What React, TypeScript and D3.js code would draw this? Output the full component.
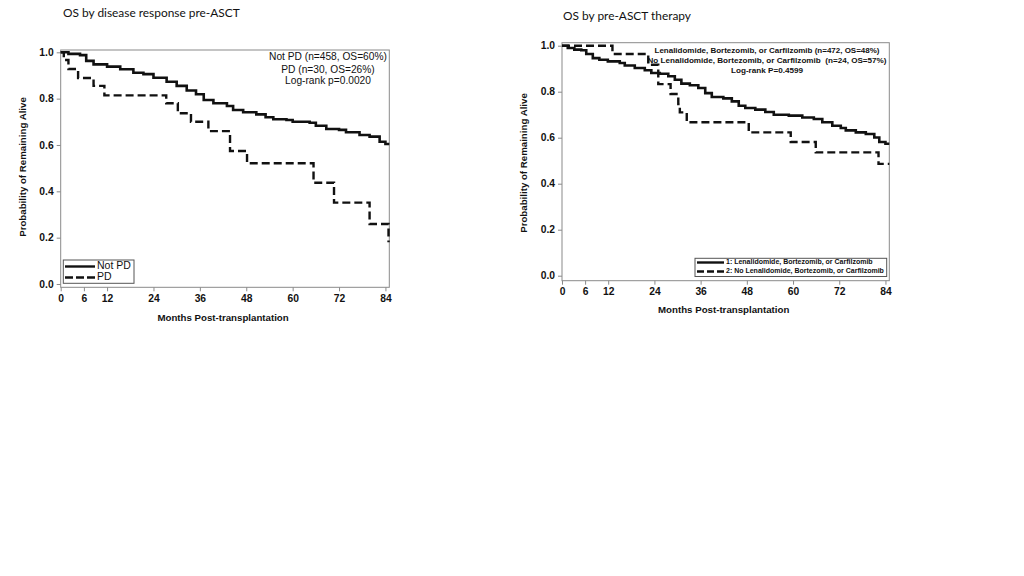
import * as d3 from "d3";
import { useEffect, useRef } from "react";

// Kaplan-Meier steps: [month, survival]
const notPdSteps: [number, number][] = [
    [0, 1.0], [2, 0.993], [5, 0.988], [6.6, 0.963], [8.5, 0.948], [12, 0.938],
    [15.4, 0.927], [18.8, 0.912], [21.4, 0.906], [24, 0.89], [27.4, 0.873],
    [30, 0.855], [32.6, 0.835], [35, 0.819], [37, 0.794], [39.5, 0.78],
    [43, 0.768], [44.6, 0.751], [47.2, 0.741], [50.6, 0.732], [53, 0.72],
    [55, 0.711], [58.4, 0.708], [60, 0.7], [64.4, 0.696], [66, 0.683],
    [68.7, 0.669], [72, 0.665], [73.8, 0.655], [77.3, 0.643], [79.9, 0.636],
    [82.5, 0.614], [84, 0.604], [85, 0.604],
];

const pdSteps: [number, number][] = [
    [0, 1.0], [0.8, 0.967], [2, 0.928], [4.5, 0.889], [8.5, 0.855], [11.3, 0.814],
    [27.3, 0.78], [30.3, 0.737], [33.7, 0.7], [38.2, 0.66], [43.8, 0.574],
    [48.2, 0.521], [65.4, 0.437], [70.7, 0.351], [79.9, 0.259], [84.8, 0.18],
];

const lbcSteps: [number, number][] = [
    [0, 1.0], [1.5, 0.99], [3.2, 0.983], [5, 0.98], [6.3, 0.964], [8, 0.946],
    [9.7, 0.939], [11.9, 0.932], [15, 0.925], [16.3, 0.914], [18.9, 0.903],
    [21.5, 0.893], [23.2, 0.881], [25.4, 0.878], [27.6, 0.867], [29.3, 0.852],
    [31, 0.835], [33.2, 0.828], [35.4, 0.816], [37.2, 0.794], [38.9, 0.777],
    [41.9, 0.771], [44.1, 0.758], [45.9, 0.739], [47.6, 0.729], [50.2, 0.722],
    [52.8, 0.712], [55, 0.7], [58.9, 0.696], [62.4, 0.688], [65.4, 0.681],
    [67.6, 0.667], [70.2, 0.652], [72.4, 0.642], [73.7, 0.632], [76.3, 0.623],
    [78.9, 0.616], [81.1, 0.601], [82.4, 0.581], [84, 0.574], [85, 0.574],
];

const noLbcSteps: [number, number][] = [
    [0, 1.0], [13.1, 0.964], [22.4, 0.917], [25, 0.833], [28.2, 0.79],
    [30.2, 0.746], [30.6, 0.71], [32.4, 0.667], [48.5, 0.623], [59.4, 0.581],
    [65.9, 0.536], [82.2, 0.486], [85, 0.486],
];

const monthTicks = [0, 6, 12, 24, 36, 48, 60, 72, 84];
const survTicks = [0, 0.2, 0.4, 0.6, 0.8, 1.0];

const leftNotes = ["Not PD (n=458, OS=60%)", "PD (n=30, OS=26%)", "Log-rank p=0.0020"];
const rightNotes = [
    "Lenalidomide, Bortezomib, or Carfilzomib (n=472, OS=48%)",
    "No Lenalidomide, Bortezomib, or Carfilzomib  (n=24, OS=57%)",
    "Log-rank P=0.4599",
];
const leftLegend = ["Not PD", "PD"];
const rightLegend = [
    "1: Lenalidomide, Bortezomib, or Carfilzomib",
    "2: No Lenalidomide, Bortezomib, or Carfilzomib",
];

const FONT = "'Liberation Sans', Arial, sans-serif";

interface Panel {
    title: string;
    titleX: number;
    titleY: number;
    left: number; right: number; top: number; bottom: number;
    y0: number; y1: number; // pixel of 0.0 and 1.0
    xAxisLabelY: number;
    yLabelX: number; yLabelY: number;
    solid: [number, number][];
    dashed: [number, number][];
    notes: string[];
    noteX: number; noteY: number[]; noteSize: number; noteWeight: string;
    noteLengths: (number | null)[];
    legend: string[];
    legendBox: [number, number, number, number];
    legendRows: number[];
    legendLine: [number, number];
    legendSize: number; legendWeight: string;
    legendDash: string;
}

const panels: Panel[] = [
    {
        title: "OS by disease response pre-ASCT", titleX: 63, titleY: 17,
        left: 60.7, right: 389.3, top: 50, bottom: 287.3,
        y0: 284, y1: 52.3,
        xAxisLabelY: 321, yLabelX: 23, yLabelY: 167,
        solid: notPdSteps, dashed: pdSteps,
        notes: leftNotes, noteX: 328, noteY: [60, 72.5, 84], noteSize: 10.2, noteWeight: "normal",
        noteLengths: [null, null, null],
        legend: leftLegend, legendBox: [63.3, 260, 134, 283.3], legendRows: [266.5, 277.5],
        legendLine: [65, 95], legendSize: 10.5, legendWeight: "normal", legendDash: "8,3",
    },
    {
        title: "OS by pre-ASCT therapy", titleX: 563, titleY: 20,
        left: 562, right: 889.3, top: 42.7, bottom: 280.7,
        y0: 275.7, y1: 45.7,
        xAxisLabelY: 313, yLabelX: 524, yLabelY: 163,
        solid: lbcSteps, dashed: noLbcSteps,
        notes: rightNotes, noteX: 767, noteY: [53, 63, 73], noteSize: 8, noteWeight: "bold",
        noteLengths: [225, 239, 72],
        legend: rightLegend, legendBox: [695, 258.3, 886.7, 276.5], legendRows: [262.5, 271.5],
        legendLine: [697, 724], legendSize: 7, legendWeight: "bold", legendDash: "7,3",
    },
];

export default function App() {
    const ref = useRef<SVGSVGElement | null>(null);

    useEffect(() => {
        if (!ref.current) return;
        const svg = d3.select(ref.current);
        svg.selectAll("*").remove();

        svg.append("rect").attr("width", 1024).attr("height", 576).attr("fill", "white");

        panels.forEach(p => {
            const x = d3.scaleLinear().domain([0, 85]).range([p.left, p.right]);
            const y = d3.scaleLinear().domain([0, 1]).range([p.y0, p.y1]);
            const g = svg.append("g");

            // Title
            g.append("text")
                .attr("x", p.titleX)
                .attr("y", p.titleY)
                .attr("font-family", "Lato, 'Open Sans', sans-serif")
                .attr("font-size", 11.9)
                .attr("fill", "#111")
                .text(p.title);

            // Frame
            g.append("rect")
                .attr("x", p.left)
                .attr("y", p.top)
                .attr("width", p.right - p.left)
                .attr("height", p.bottom - p.top)
                .attr("fill", "none")
                .attr("stroke", "#8a8a8a")
                .attr("stroke-width", 1);

            // Y axis
            const yAxis = g.append("g")
                .attr("transform", `translate(${p.left},0)`)
                .call(d3.axisLeft(y).tickValues(survTicks).tickSize(4).tickPadding(3).tickFormat(d3.format(".1f")));
            yAxis.select(".domain").remove();

            // X axis
            const xAxis = g.append("g")
                .attr("transform", `translate(0,${p.bottom})`)
                .call(d3.axisBottom(x).tickValues(monthTicks).tickSize(4).tickPadding(3).tickFormat(d3.format("d")));
            xAxis.select(".domain").remove();

            [yAxis, xAxis].forEach(a => {
                a.selectAll("line").attr("stroke", "#8a8a8a");
                a.selectAll("text")
                    .attr("font-family", FONT)
                    .attr("font-size", 10.3)
                    .attr("font-weight", "bold")
                    .attr("fill", "#111");
            });

            // Axis titles
            g.append("text")
                .attr("x", (x(0) + x(84)) / 2)
                .attr("y", p.xAxisLabelY)
                .attr("text-anchor", "middle")
                .attr("font-family", FONT)
                .attr("font-size", 9.7)
                .attr("font-weight", "bold")
                .attr("fill", "#111")
                .text("Months Post-transplantation");

            g.append("text")
                .attr("transform", `translate(${p.yLabelX},${p.yLabelY}) rotate(-90)`)
                .attr("text-anchor", "middle")
                .attr("dominant-baseline", "middle")
                .attr("font-family", FONT)
                .attr("font-size", 9.7)
                .attr("font-weight", "bold")
                .attr("fill", "#111")
                .text("Probability of Remaining Alive");

            // Curves
            const line = d3.line<[number, number]>()
                .x(d => x(d[0]))
                .y(d => y(d[1]))
                .curve(d3.curveStepAfter);

            g.append("path")
                .attr("d", line(p.dashed)!)
                .attr("fill", "none")
                .attr("stroke", "#111")
                .attr("stroke-width", 2.4)
                .attr("stroke-dasharray", "8,4");

            g.append("path")
                .attr("d", line(p.solid)!)
                .attr("fill", "none")
                .attr("stroke", "#111")
                .attr("stroke-width", 2.6);

            // Notes
            p.notes.forEach((t, i) => {
                const txt = g.append("text")
                    .attr("x", p.noteX)
                    .attr("y", p.noteY[i])
                    .attr("text-anchor", "middle")
                    .attr("font-family", FONT)
                    .attr("font-size", p.noteSize)
                    .attr("font-weight", p.noteWeight)
                    .attr("fill", "#111")
                    .style("white-space", "pre")
                    .text(t);
                const len = p.noteLengths[i];
                if (len) txt.attr("textLength", len).attr("lengthAdjust", "spacingAndGlyphs");
            });

            // Legend
            const [bx0, by0, bx1, by1] = p.legendBox;
            g.append("rect")
                .attr("x", bx0).attr("y", by0)
                .attr("width", bx1 - bx0).attr("height", by1 - by0)
                .attr("fill", "white")
                .attr("stroke", "#555")
                .attr("stroke-width", 1);

            p.legend.forEach((t, i) => {
                g.append("line")
                    .attr("x1", p.legendLine[0]).attr("x2", p.legendLine[1])
                    .attr("y1", p.legendRows[i]).attr("y2", p.legendRows[i])
                    .attr("stroke", "#111")
                    .attr("stroke-width", 2.4)
                    .attr("stroke-dasharray", i === 0 ? null : p.legendDash);
                g.append("text")
                    .attr("x", p.legendLine[1] + 2)
                    .attr("y", p.legendRows[i])
                    .attr("dominant-baseline", "middle")
                    .attr("font-family", FONT)
                    .attr("font-size", p.legendSize)
                    .attr("font-weight", p.legendWeight)
                    .attr("fill", "#111")
                    .text(t);
            });
        });
    }, []);

    return (
        <svg
            ref={ref}
            width={1024}
            height={576}
            style={{ position: "absolute", left: 0, top: 0 }}
        />
    );
}
